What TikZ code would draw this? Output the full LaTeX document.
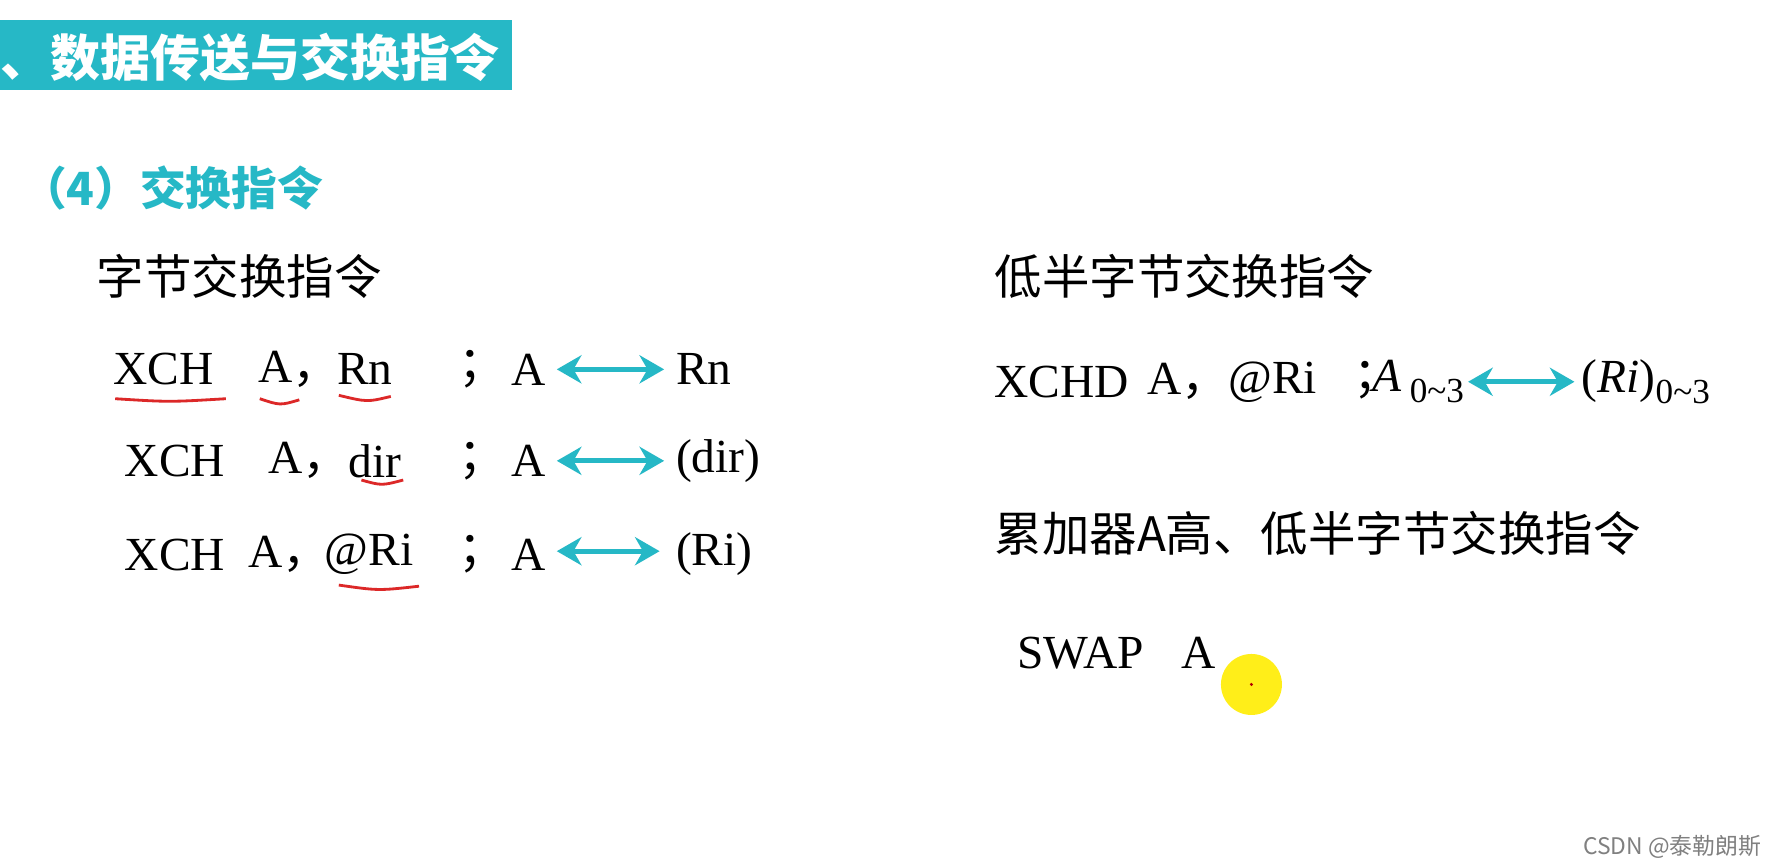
\documentclass[tikz,border=0pt]{standalone}
\usepackage{fontspec}
\setmainfont{Liberation Serif}
\newfontfamily\cjk{Noto Sans CJK SC}
\usetikzlibrary{arrows.meta,calc}
\definecolor{teal1}{RGB}{38,184,198}
\definecolor{ul}{RGB}{220,40,40}
\newcommand{\fc}{{\cjk ，}}
\newcommand{\fs}{{\cjk ；}}
\begin{document}
\begin{tikzpicture}[x=0.011295cm,y=-0.011295cm,
  cn/.style={anchor=west,inner sep=0,font=\cjk\fontsize{13.5}{14}\selectfont},
  en/.style={anchor=west,inner sep=0,font=\fontsize{13.5}{15}\selectfont},
  dbl/.style={teal1,line width=1.4pt,{Stealth[length=7pt,width=8pt]}-{Stealth[length=7pt,width=8pt]}},
  und/.style={ul,line width=0.8pt}]
\useasboundingbox[fill=white] (0,0) rectangle (1568,768);
\fill[teal1] (0,18) rectangle (453,80);
\node[cn,text=white,font=\cjk\bfseries\fontsize{14.2}{15}\selectfont] (ti) at (0,51) {、数据传送与交换指令};
\node[cn,text=teal1,font=\cjk\bfseries\fontsize{13}{14}\selectfont] (s4) at (18,166) {（4）交换指令};
\node[cn] (h1) at (85,245) {字节交换指令};
\node[cn] (h2) at (880,245) {低半字节交换指令};
\node[cn] (h3) at (880,472) {累加器A高、低半字节交换指令};
% row 1
\node[en] (r1a) at (100,327) {XCH};
\node[en] (r1b) at (228,327) {A\fc};
\node[en] (r1c) at (298,327) {Rn};
\node[en] (r1d) at (405,327) {\fs};
\node[en] (r1e) at (452,327) {A};
\node[en] (r1f) at (598,327) {Rn};
% row 2
\node[en] (r2a) at (110,408) {XCH};
\node[en] (r2b) at (237,408) {A\fc};
\node[en] (r2c) at (308,408) {dir};
\node[en] (r2d) at (405,408) {\fs};
\node[en] (r2e) at (452,408) {A};
\node[en] (r2f) at (598,408) {(dir)};
% row 3
\node[en] (r3a) at (110,491) {XCH};
\node[en] (r3b) at (219,491) {A\fc};
\node[en] (r3c) at (287,491) {@Ri};
\node[en] (r3d) at (405,491) {\fs};
\node[en] (r3e) at (452,491) {A};
\node[en] (r3f) at (598,491) {(Ri)};
\coordinate (l1) at (493,327); \coordinate (m1) at (588,327);
\coordinate (l2) at (493,408); \coordinate (m2) at (588,408);
\coordinate (l3) at (493,488); \coordinate (m3) at (584,488);
\draw[dbl] (l1) -- (m1);
\draw[dbl] (l2) -- (m2);
\draw[dbl] (l3) -- (m3);
% underlines
\draw[und] (102,353) .. controls (150,356) .. (200,353);
\draw[und] (230,353) .. controls (248,359) .. (265,354);
\draw[und] (300,350) .. controls (325,356) .. (346,351);
\draw[und] (320,425) .. controls (338,430) .. (357,425);
\draw[und] (300,518) .. controls (335,523) .. (371,519);
% right
\node[en] (x1) at (880,338) {XCHD};
\node[en] (x2) at (1015,338) {A\fc};
\node[en] (x3) at (1087,338) {@Ri};
\node[en] (x4) at (1198,338) {\fs\hspace{-0.6em}\textit{A}\,\raisebox{-0.5ex}{\fontsize{10}{10}\selectfont 0\textasciitilde3}};
\node[en] (x5) at (1400,338) {(\textit{Ri})\raisebox{-0.5ex}{\fontsize{10}{10}\selectfont 0\textasciitilde3}};
\draw[dbl] ($(x4.east)+(3,0)$) -- ($(x5.west)+(-6,0)$);
\node[en] (sw) at (900,578) {SWAP\hspace{0.8em}A};
\fill[yellow!95!orange,opacity=0.9] (1108,606) circle (27);
\fill[red!70!black] (1108,606) circle (1.5);
\node[anchor=east,inner sep=0,text=gray,font=\cjk\fontsize{6.5}{7}\selectfont] (cs) at (1560,750) {CSDN @泰勒朗斯};
\end{tikzpicture}
\end{document}
